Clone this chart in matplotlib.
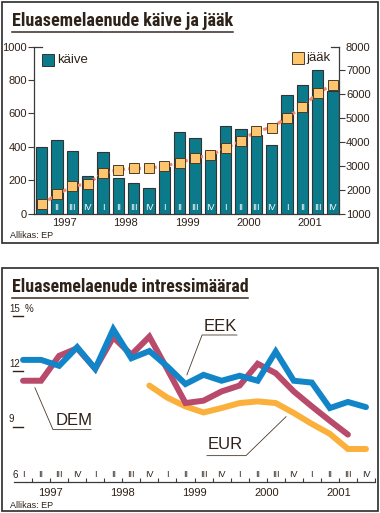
import numpy as np
import matplotlib
matplotlib.use("Agg")
import matplotlib.pyplot as plt
from matplotlib import font_manager
from matplotlib.patches import Rectangle
import matplotlib.transforms as mtransforms

# --- data -------------------------------------------------------------
years = ["1997", "1998", "1999", "2000", "2001"]
quarters = ["I", "II", "III", "IV"] * 5

# loan turnover (left axis, bars) and balance (right axis, squares)
kaive = [397, 440, 372, 223, 367, 215, 183, 155, 279, 486,
         452, 375, 526, 508, 468, 410, 711, 771, 861, 735]
jaak = [1380, 1800, 2135, 2250, 2690, 2835, 2890, 2890, 3005, 3115,
        3340, 3435, 3745, 4035, 4455, 4600, 5020, 5450, 6050, 6400]

# interest rates, %
eek = [12.62, 12.62, 12.30, 13.31, 12.14, 14.28, 12.71, 13.10, 12.26, 11.31,
       11.81, 11.49, 11.76, 11.49, 13.07, 11.49, 11.39, 10.01, 10.34, 10.06]
dem = [11.49, 11.49, 12.84, 13.25, 12.14, 13.85, 12.90, 13.88, 12.10, 10.28,
       10.41, 10.91, 11.23, 12.41, 11.90, 10.91, 10.10, 9.32, 8.57, np.nan]
eur = [np.nan] * 7 + [11.23, 10.57, 10.10, 9.77, 10.01, 10.28, 10.37, 10.28,
                      9.74, 9.15, 8.61, 7.79, 7.79]

# --- style ------------------------------------------------------------
W, H = 380, 513
TXT = "#2e2118"
plt.rcParams["font.family"] = ["Liberation Sans", "DejaVu Sans"]
plt.rcParams["text.color"] = TXT
plt.rcParams["axes.edgecolor"] = "#3a3a3a"
plt.rcParams["xtick.color"] = "#3a3a3a"
plt.rcParams["ytick.color"] = "#3a3a3a"
plt.rcParams["xtick.labelcolor"] = TXT
plt.rcParams["ytick.labelcolor"] = TXT

# a narrow bold face for the headings, if one is around
have = {f.name for f in font_manager.fontManager.ttflist}
narrow = [n for n in ["Liberation Sans Narrow", "Roboto Condensed", "Open Sans Condensed",
                      "Noto Sans Condensed", "DejaVu Sans Condensed"] if n in have]
title_family = narrow[:1] + ["DejaVu Sans"]

fig = plt.figure(figsize=(W / 100, H / 100), dpi=100)


def box(l, t, r, b):
    # pixel box -> figure fraction rect
    return [l / W, 1 - b / H, (r - l) / W, (b - t) / H]


x = np.arange(20)
year_mid = np.arange(5) * 4 + 1.5

# --- upper chart: turnover and balance --------------------------------
ax = fig.add_axes(box(34, 46.5, 339, 213.5))
ax.bar(x, kaive, width=0.74, color="#0b7b8b", edgecolor="#333333", linewidth=0.8, zorder=2)
ax.set_xlim(-0.5, 19.4)
ax.set_ylim(0, 1000)
ax.set_yticks(np.arange(0, 1001, 200))
ax.tick_params(axis="y", direction="out", length=4, width=0.8, labelsize=8, pad=1)
ax.yaxis.get_major_ticks()[-1].tick1line.set_visible(False)
ax.plot([0, 0.025], [1000, 1000], color="#3a3a3a", linewidth=0.9, clip_on=False,
        transform=mtransforms.blended_transform_factory(ax.transAxes, ax.transData))
ax.set_xticks([])
for s in ["top", "right"]:
    ax.spines[s].set_visible(False)
ax.spines["left"].set_linewidth(0.9)
ax.spines["bottom"].set_linewidth(0.9)
for i, q in enumerate(quarters):
    ax.text(i, 38, q, color="white", fontsize=6.5, ha="center", va="center", zorder=3)
for xm, yr in zip(year_mid, years):
    ax.text(xm, -0.055, yr, transform=ax.get_xaxis_transform(), fontsize=8,
            ha="center", va="center")

ax2 = ax.twinx()
ax2.plot(x, jaak, color="#f4866c", linewidth=2.2, linestyle=(0, (1.6, 1.0)),
         marker="s", markersize=6.5, markerfacecolor="#fcc56e",
         markeredgecolor="#4a3a2a", markeredgewidth=0.7, zorder=4)
ax2.set_ylim(1000, 8000)
ax2.set_yticks(np.arange(1000, 8001, 1000))
ax2.tick_params(axis="y", direction="out", length=4, width=0.8, labelsize=8, pad=1)
ax2.yaxis.get_major_ticks()[-1].tick2line.set_visible(False)
ax2.plot([0.975, 1.0], [8000, 8000], color="#3a3a3a", linewidth=0.9, clip_on=False,
         transform=mtransforms.blended_transform_factory(ax2.transAxes, ax2.transData))
for s in ["top", "left", "bottom"]:
    ax2.spines[s].set_visible(False)
ax2.spines["right"].set_linewidth(0.9)

# --- lower chart: interest rates --------------------------------------
bx = fig.add_axes(box(14, 316, 375, 482))
bx.plot(x, eur, color="#fbb03b", linewidth=4.3, solid_capstyle="round", solid_joinstyle="miter")
bx.plot(x, dem, color="#b84a6b", linewidth=4.3, solid_capstyle="round", solid_joinstyle="miter")
bx.plot(x, eek, color="#1285c9", linewidth=4.3, solid_capstyle="round", solid_joinstyle="miter")
bx.set_xlim(-0.5, 19.5)
bx.set_ylim(6, 15)
for s in ["top", "right", "left"]:
    bx.spines[s].set_visible(False)
bx.spines["bottom"].set_linewidth(0.9)
bx.set_xticks(np.arange(0.5, 20, 1))
bx.set_xticklabels([])
bx.tick_params(axis="x", direction="in", length=3, width=0.8)
bx.set_yticks([])
for i, q in enumerate(quarters):
    bx.text(i, 6.4, q, fontsize=6.5, ha="center", va="center")
for xm, yr in zip(year_mid, years):
    bx.text(xm, -0.066, yr, transform=bx.get_xaxis_transform(), fontsize=8,
            ha="center", va="center")
ytr = mtransforms.blended_transform_factory(bx.transAxes, bx.transData)
for v in [15, 12, 9]:
    bx.plot([-0.003, 0.024], [v, v], color=TXT, linewidth=1.0, transform=ytr, clip_on=False)
    bx.text(-0.014, v + 0.12, str(v), fontsize=7, ha="left", va="bottom",
            transform=ytr, clip_on=False)
bx.text(0.03, 15.12, "%", fontsize=7, ha="left", va="bottom", transform=ytr)
bx.text(-0.003, 6.12, "6", fontsize=7, ha="left", va="bottom", transform=ytr)

# series labels with leader lines
lead = dict(color="#4a3a2a", linewidth=0.6, clip_on=False)
bx.plot([9.08, 9.92, 11.85], [11.81, 13.97, 13.97], **lead)
bx.text(10.0, 14.05, "EEK", fontsize=12, ha="left", va="bottom")
bx.plot([0.66, 1.66, 3.77], [11.11, 8.84, 8.84], **lead)
bx.text(1.8, 8.92, "DEM", fontsize=12, ha="left", va="bottom")
bx.plot([14.57, 12.35, 10.19], [9.54, 7.43, 7.43], **lead)
bx.text(10.2, 7.65, "EUR", fontsize=12, ha="left", va="bottom")

# --- frames, titles, legend (pixel overlay) ---------------------------
ov = fig.add_axes([0, 0, 1, 1], zorder=10)
ov.set_xlim(0, W)
ov.set_ylim(H, 0)
ov.axis("off")
ov.patch.set_alpha(0)
for t, b in [(2, 243), (267.5, 511)]:
    ov.add_patch(Rectangle((1.5, t), 376, b - t, fill=False, edgecolor="#2a2a2a", linewidth=1.2))

tfont = dict(family=title_family, weight="bold", stretch="condensed", fontsize=13.5)
t1 = ov.text(12, 25.5, "Eluasemelaenude käive ja jääk", ha="left", va="baseline", **tfont)
ov.plot([12, 233], [31.5, 31.5], color="#3b2a20", linewidth=1.1)
t2 = ov.text(12, 292.5, "Eluasemelaenude intressimäärad", ha="left", va="baseline", **tfont)
ov.plot([12, 248], [298, 298], color="#3b2a20", linewidth=1.1)

# shrink the headings so they end where the rules under them end
r = fig.canvas.get_renderer()
for t, target in [(t1, 221), (t2, 236)]:
    w = t.get_window_extent(renderer=r).width
    if w > target:
        t.set_fontsize(13.5 * target / w)

ov.text(10, 235, "Allikas: EP", fontsize=6.5, ha="left", va="center")
ov.text(10, 505, "Allikas: EP", fontsize=6.5, ha="left", va="center")

ov.plot([47.5], [60], marker="s", markersize=8, color="#0b7b8b", markeredgecolor="#333333", markeredgewidth=0.7)
ov.text(57, 60, "käive", fontsize=9.5, ha="left", va="center")
ov.plot([297.5], [58], marker="s", markersize=8, color="#fcc56e", markeredgecolor="#4a3a2a", markeredgewidth=0.7)
ov.text(306, 58, "jääk", fontsize=9.5, ha="left", va="center")

fig.savefig("out.png", dpi=100)
